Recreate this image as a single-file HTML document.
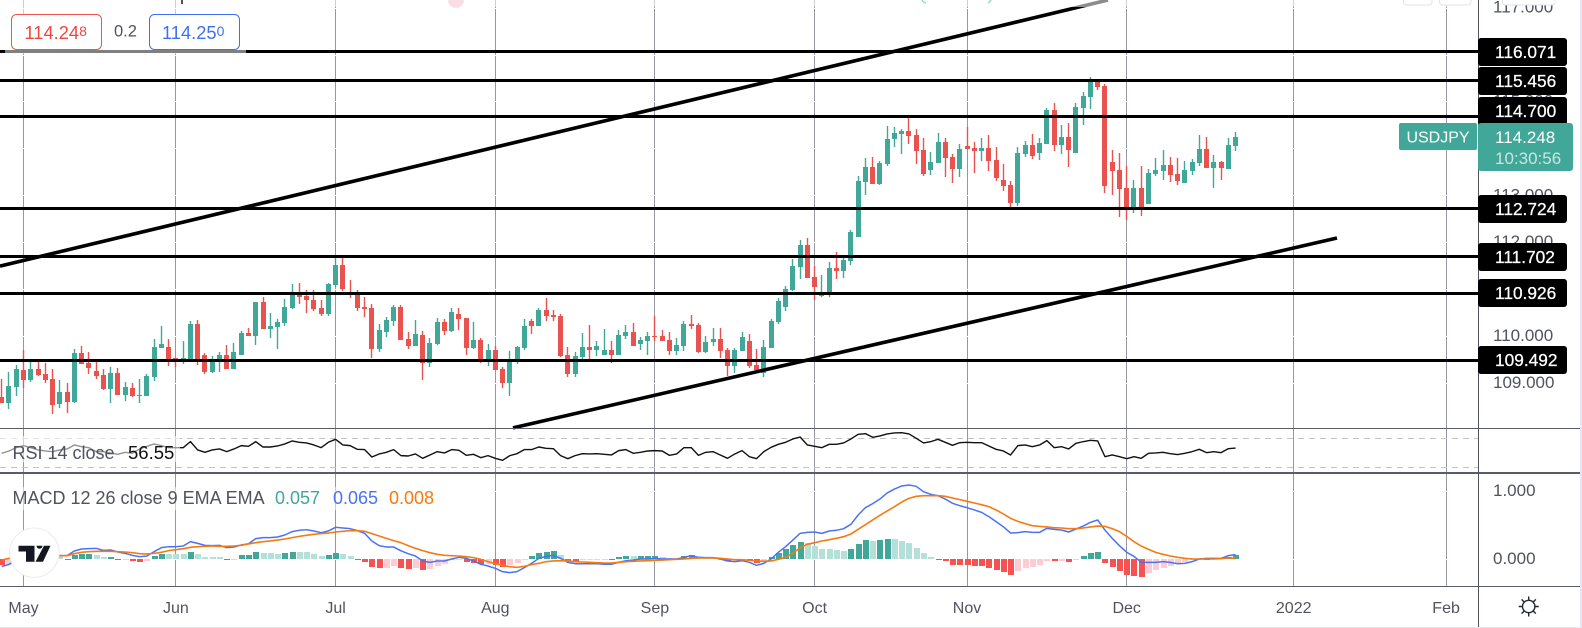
<!DOCTYPE html>
<html lang="en">
<head>
<meta charset="utf-8">
<title>USDJPY daily chart</title>
<style>
html,body{margin:0;padding:0;background:#fff;width:1582px;height:628px;overflow:hidden}
svg{display:block;font-family:"Liberation Sans",sans-serif}
</style>
</head>
<body>
<svg id="chart" xmlns="http://www.w3.org/2000/svg" width="1582" height="628" viewBox="0 0 1582 628">
  <rect x="0" y="0" width="1582" height="628" fill="#ffffff"/>
  <g id="grid"></g>
  <g id="rsi-guides"></g>
  <g id="candles"></g>
  <g id="rsi"></g>
  <g id="macd"></g>
  <g id="levels"></g>
  <g id="trends"></g>

  <rect x="0" y="0" width="1478" height="7" fill="#ffffff" fill-opacity="0.55"/>
  <rect x="5" y="7" width="241" height="47" fill="#ffffff" fill-opacity="0.5"/>
  <rect x="0" y="436" width="180" height="26" fill="#ffffff" fill-opacity="0.55"/>
  <rect x="0" y="487" width="442" height="23" fill="#ffffff" fill-opacity="0.5"/>

  <rect x="181" y="0" width="2" height="4" fill="#50535e"/>
  <path d="M448 0 A8 8 0 0 0 464 0 Z" fill="#fbdde6"/>
  <path d="M922 0 Q923 2 926 3" fill="none" stroke="#7fd0c6" stroke-width="1.2"/>
  <path d="M991 0 Q990 2 988 3" fill="none" stroke="#7fd0c6" stroke-width="1.2"/>

  <g>
    <rect x="11.5" y="14.5" width="90" height="35" rx="5" fill="#ffffff" stroke="#f0534b"/>
    <text x="24.5" y="39" font-size="18.3" fill="#f0473e">114.24<tspan font-size="14" dy="-3">8</tspan></text>
  </g>
  <text x="114" y="36.5" font-size="16.5" fill="#50535e">0.2</text>
  <g>
    <rect x="149.5" y="14.5" width="90" height="35" rx="5" fill="#ffffff" stroke="#3f6ff5"/>
    <text x="162" y="39" font-size="18.3" fill="#3f6ff5">114.25<tspan font-size="14" dy="-3">0</tspan></text>
  </g>

  <text x="12.5" y="459" font-size="18" fill="#50535e">RSI 14 close</text>
  <text x="128" y="459" font-size="18.5" fill="#111111">56.55</text>
  <text x="12.5" y="504" font-size="18" fill="#50535e">MACD 12 26 close 9 EMA EMA</text>
  <text x="275" y="504" font-size="18" fill="#40a799">0.057</text>
  <text x="333" y="504" font-size="18" fill="#4a72f5">0.065</text>
  <text x="389" y="504" font-size="18" fill="#f57a10">0.008</text>

  <g>
    <circle cx="34.3" cy="552.7" r="24.7" fill="#ffffff" stroke="#ececec" stroke-width="1"/>
    <path d="M18.5 545.7 H34.5 V561.7 H26 V551.5 H18.5 Z M36.5 545.7 A3 3 0 1 0 42.5 545.7 Z M44 545.7 H50.5 L43 561.7 H35.5 Z" fill="#131722"/>
  </g>

  <g id="separators">
    <rect x="0" y="428" width="1580" height="1" fill="#5a5d68"/>
    <rect x="0" y="472" width="1580" height="2" fill="#5a5d68"/>
    <rect x="0" y="586" width="1580" height="1" fill="#5a5d68"/>
    <rect x="1478" y="0" width="1" height="628" fill="#50535e"/>
  </g>

  <g id="price-axis"></g>
  <g id="time-axis"></g>
  <g id="level-labels"></g>

  <g>
    <rect x="1399" y="123" width="78" height="27" rx="2" fill="#40a799"/>
    <text x="1438" y="142.5" font-size="16" text-anchor="middle" fill="#ffffff">USDJPY</text>
    <rect x="1478" y="123" width="95" height="48" rx="3" fill="#40a799"/>
    <text x="1495" y="143" font-size="17" fill="#ffffff">114.248</text>
    <text x="1495" y="164" font-size="17" fill="#ffffff" fill-opacity="0.72">10:30:56</text>
  </g>

  <g>
    <circle cx="1528.7" cy="606.5" r="6.2" fill="none" stroke="#222631" stroke-width="1.4"/>
    <path d="M1528.7 596.5V600.3M1528.7 612.7V616.5M1518.7 606.5H1522.5M1534.9 606.5H1538.7M1521.6 599.4L1524.3 602.1M1533.1 610.9L1535.8 613.6M1521.6 613.6L1524.3 610.9M1533.1 602.1L1535.8 599.4" fill="none" stroke="#222631" stroke-width="1.4"/>
  </g>

  <path d="M1403.5 0 V2 A3 3 0 0 0 1406.5 5 H1429 A3 3 0 0 0 1432 2 V0" fill="#ffffff" stroke="#e0e3eb"/>
  <path d="M1439.5 0 V2 A3 3 0 0 0 1442.5 5 H1468 A3 3 0 0 0 1471 2 V0" fill="#ffffff" stroke="#e0e3eb"/>
  <path d="M1502.5 0 V2 A3 3 0 0 0 1505.5 5 H1552 A3 3 0 0 0 1555 2 V0" fill="#ffffff" stroke="#e0e3eb"/>

  <rect x="1580" y="0" width="2" height="628" fill="#e6e6f5"/>
  <rect x="0" y="627" width="1582" height="1" fill="#e6e6f5"/>
</svg>

<script>
const opens = [
108.71,108.58,108.92,109.29,109.07,109.31,109.20,109.09,108.56,108.82,
108.60,109.65,109.44,109.27,109.18,108.88,109.22,108.75,108.90,108.73,
108.73,109.14,109.76,109.78,109.54,109.48,109.50,110.27,109.60,109.24,
109.46,109.60,109.31,109.60,110.07,110.01,110.74,110.16,110.20,110.29,
110.61,110.91,110.86,110.78,110.61,110.48,111.10,111.52,110.95,110.91,
110.63,110.61,109.73,110.10,110.33,110.63,109.95,109.80,110.03,109.44,
109.84,110.31,110.12,110.48,110.39,109.75,109.93,109.48,109.71,109.31,
109.01,109.48,109.75,110.33,110.22,110.57,110.46,110.44,109.60,109.20,
109.56,109.78,109.71,109.60,109.71,109.60,110.01,110.10,109.84,109.90,
110.01,110.01,109.93,109.69,109.80,110.27,110.24,109.67,109.88,109.95,
109.71,109.37,109.69,109.90,109.39,109.22,109.75,110.31,110.63,110.99,
111.48,111.95,111.27,110.86,110.95,111.46,111.40,111.61,112.12,113.30,
113.61,113.25,113.68,114.21,114.32,114.38,114.30,113.98,113.55,113.70,
114.15,113.82,113.57,114.06,114.02,113.95,114.02,113.76,113.34,113.23,
112.85,113.89,114.08,113.91,114.10,114.83,114.08,114.25,113.91,114.87,
115.11,115.43,115.34,113.72,113.55,113.17,112.76,113.17,112.82,113.46,
113.53,113.66,113.46,113.27,113.53,113.70,114.00,113.59,113.72,113.57,
114.06];
const highs = [
109.09,109.25,109.39,109.71,109.46,109.46,109.44,109.31,109.07,109.01,
109.73,109.80,109.67,109.50,109.31,109.35,109.33,109.03,109.01,109.09,
109.20,109.95,110.22,109.95,109.54,109.90,110.33,110.35,109.65,109.58,
109.67,109.82,109.86,110.12,110.18,110.74,110.84,110.50,110.37,110.80,
111.12,111.14,110.99,110.99,110.78,111.14,111.67,111.67,111.21,110.99,
110.84,110.69,110.27,110.41,110.67,110.67,110.10,110.35,110.12,109.97,
110.39,110.37,110.61,110.61,110.39,110.31,109.97,109.84,109.80,109.35,
109.69,109.80,110.37,110.37,110.61,110.82,110.57,110.48,109.78,109.67,
110.07,110.24,109.90,110.16,109.90,110.14,110.24,110.29,109.99,110.10,
110.44,110.14,110.10,109.97,110.33,110.46,110.29,110.01,110.18,110.18,
109.75,109.75,110.10,110.05,109.73,109.93,110.37,110.82,111.08,111.65,
112.06,112.10,111.50,111.31,111.59,111.80,111.72,112.27,113.42,113.80,
113.82,113.74,114.49,114.47,114.42,114.68,114.42,114.23,113.93,114.34,
114.23,113.89,114.10,114.47,114.15,114.23,114.30,114.04,113.68,113.32,
114.04,114.17,114.32,114.23,114.87,114.98,114.51,114.55,114.98,115.21,
115.53,115.47,115.38,113.98,113.91,113.63,113.34,113.63,113.57,113.80,
113.98,113.83,113.80,113.74,113.78,114.30,114.25,113.87,113.74,114.23,
114.36];
const lows = [
108.58,108.45,108.73,108.90,109.03,109.16,109.01,108.35,108.48,108.37,
108.58,109.42,109.20,109.09,108.86,108.58,108.75,108.62,108.71,108.58,
108.73,109.05,109.76,109.37,109.35,109.41,109.50,109.39,109.20,109.22,
109.24,109.31,109.31,109.60,110.01,109.82,110.16,109.97,109.73,110.22,
110.59,110.69,110.50,110.54,110.44,110.44,111.06,110.97,110.82,110.54,
110.41,109.54,109.67,109.99,110.22,109.93,109.73,109.80,109.07,109.35,
109.82,110.03,110.10,110.14,109.60,109.73,109.44,109.37,109.29,108.90,
108.73,109.41,109.71,110.05,110.22,110.33,110.33,109.56,109.14,109.14,
109.52,109.52,109.58,109.60,109.44,109.60,109.95,109.80,109.71,109.60,
109.90,109.90,109.60,109.60,109.69,110.16,109.65,109.65,109.80,109.54,
109.16,109.22,109.69,109.33,109.29,109.14,109.75,110.27,110.54,110.97,
111.23,111.25,110.78,110.84,110.84,111.23,111.25,111.52,112.12,113.02,
113.25,113.23,113.63,114.04,113.89,114.10,113.68,113.42,113.44,113.70,
113.40,113.27,113.40,114.00,113.49,113.74,113.53,113.32,113.10,112.76,
112.78,113.83,113.78,113.76,114.10,113.95,113.89,113.62,113.91,114.51,
114.85,115.26,113.06,113.02,112.55,112.48,112.63,112.57,112.82,113.42,
113.34,113.29,113.23,113.27,113.44,113.63,113.59,113.17,113.34,113.57,
113.95];
const closes = [
108.58,108.95,109.31,109.07,109.31,109.18,109.07,108.54,108.82,108.60,
109.65,109.42,109.33,109.16,108.88,109.22,108.75,108.92,108.73,108.75,
109.16,109.78,109.84,109.50,109.48,109.54,110.27,109.50,109.24,109.50,
109.60,109.31,109.67,110.07,110.01,110.74,110.16,110.22,110.31,110.63,
110.95,110.84,110.78,110.59,110.48,111.12,111.52,111.01,110.93,110.61,
110.59,109.73,110.14,110.35,110.63,109.93,109.80,110.05,109.44,109.86,
110.31,110.12,110.52,110.37,109.75,109.93,109.48,109.71,109.29,109.01,
109.48,109.78,110.22,110.22,110.57,110.44,110.41,109.58,109.20,109.58,
109.78,109.71,109.80,109.71,109.60,110.03,110.10,109.80,109.93,110.01,
109.99,109.90,109.69,109.82,110.27,110.22,109.67,109.88,109.95,109.69,
109.37,109.71,109.99,109.37,109.29,109.78,110.33,110.76,111.01,111.50,
111.95,111.25,111.06,110.91,111.46,111.40,111.63,112.23,113.32,113.61,
113.25,113.70,114.21,114.34,114.38,114.27,113.95,113.46,113.72,114.15,
113.80,113.57,114.00,114.00,113.95,114.02,113.74,113.38,113.21,112.85,
113.91,114.08,113.85,114.12,114.83,114.08,114.25,113.98,114.89,115.13,
115.43,115.32,113.21,113.53,113.14,112.76,113.17,112.76,113.49,113.55,
113.66,113.44,113.32,113.55,113.72,114.00,113.59,113.72,113.59,114.08,
114.248];
const rsiValues = [
49.3,52.5,57.1,59.9,57,53.9,52.5,51.6,53.9,55.3,
60.8,58.5,57.1,51.6,51.6,49.8,47.9,50.7,49.3,55.3,
59,62.2,59.9,57.1,57.1,57.1,65.4,53.9,50.7,53.9,
55.3,51.6,55.3,59.9,59,65.4,58,58,59.4,62.2,
66.3,64.5,63.6,60.8,57.1,64.5,68.6,60.8,59.9,54.8,
54.4,44.2,48.4,50.7,54.4,46.1,45.6,48.4,42.4,47,
51.6,49.8,54.4,53.4,46.5,47.9,43.3,46.1,42.4,39.6,
46.1,48.8,54.4,54.4,58,56.2,55.7,46.1,41.9,46.1,
48.8,48.4,48.8,47.9,47,53,54.4,49.3,50.7,52.5,
53,52.5,46.5,48.4,57.1,57.1,46.5,50.7,51.6,47,
42.4,48.4,53,44.7,41.9,51.6,57.6,61.7,64.5,69.1,
71.8,60.8,59,57.1,61.7,61.7,63.6,69.1,75.5,76.4,
71.4,73.2,76,77.4,77.8,76,70,63.6,65.4,68.6,
64.5,60.3,64,64.5,64,64,59.4,54.8,52.5,47,
59.9,60.8,58.5,60.8,66.8,57.1,58.5,55.3,63.1,65.4,
67.2,66.3,44.7,47,44.7,41.9,44.7,42.4,49.3,49.8,
50.7,48.8,47.5,49.3,51.6,54.8,50.2,51.6,50.2,55.7,
56.55];
const macdValues = [
-.11,-.08,-.015,.045,.108,.118,.108,.083,.049,.049,
.118,.147,.152,.157,.127,.132,.103,.083,.054,.034,
.044,.108,.167,.181,.181,.191,.255,.23,.201,.196,
.201,.167,.176,.206,.225,.299,.314,.314,.324,.353,
.402,.422,.431,.412,.387,.412,.466,.456,.446,.417,
.377,.265,.196,.176,.176,.12,.078,.044,-.029,-.049,
-.029,-.029,0,.025,.01,-.029,-.078,-.103,-.137,-.186,
-.201,-.186,-.127,-.064,.01,.039,.054,.01,-.049,-.069,
-.069,-.069,-.069,-.078,-.078,-.049,-.025,-.015,0,0,
.01,0,0,0,.025,.049,.025,.02,.02,0,
-.029,-.039,-.025,-.049,-.093,-.064,0,.098,.181,.279,
.377,.392,.397,.377,.412,.422,.446,.51,.647,.755,
.814,.882,.971,1.029,1.074,1.088,1.069,.99,.951,.931,
.882,.819,.784,.755,.721,.686,.623,.549,.475,.382,
.387,.402,.392,.392,.451,.436,.426,.397,.441,.485,
.539,.574,.426,.304,.196,.098,.039,-.049,-.049,-.049,
-.039,-.049,-.069,-.064,-.039,0,.01,.01,.01,.049,
.065];
const signalValues = [
-.015,.01,.025,.034,.049,.059,.059,.054,.049,.049,
.078,.098,.108,.113,.113,.113,.108,.103,.093,.078,
.074,.083,.098,.123,.137,.152,.172,.181,.186,.191,
.186,.186,.191,.201,.221,.24,.255,.265,.279,.294,
.314,.333,.348,.363,.373,.382,.397,.407,.417,.417,
.407,.373,.338,.304,.27,.24,.196,.157,.123,.093,
.069,.054,.049,.044,.034,.02,-.005,-.039,-.069,-.093,
-.113,-.123,-.108,-.083,-.064,-.039,-.029,-.025,-.029,-.039,
-.044,-.049,-.054,-.059,-.059,-.049,-.039,-.034,-.029,-.025,
-.02,-.015,-.01,-.005,0,.01,.015,.015,.015,.01,
0,-.01,-.01,-.02,-.029,-.034,-.029,-.005,.025,.083,
.167,.216,.24,.265,.284,.304,.328,.368,.436,.505,
.574,.642,.706,.77,.838,.892,.922,.931,.931,.931,
.922,.897,.873,.848,.824,.799,.77,.721,.662,.598,
.554,.52,.49,.48,.471,.461,.456,.446,.446,.456,
.471,.485,.48,.446,.402,.333,.255,.191,.142,.098,
.069,.044,.025,.01,0,0,0,0,.005,.015,
.008];
const histValues = [
-.09,-.08,-.04,.01,.06,.059,.05,.05,.045,-.015,
.06,.07,.08,.06,.03,.032,-.02,-.02,-.03,-.05,
-.03,.045,.08,.075,.074,.073,.105,.075,.03,.029,
.028,-.015,-.005,.054,.06,.1,.085,.084,.075,.09,
.1,.099,.098,.075,.05,.065,.085,.07,.045,-.015,
-.05,-.12,-.135,-.134,-.105,-.135,-.15,-.13,-.16,-.145,
-.105,-.07,-.02,-.01,-.04,-.06,-.075,-.07,-.085,-.115,
-.085,-.06,-.005,.045,.09,.105,.115,.06,-.03,-.031,
-.02,-.019,-.018,-.017,-.022,.03,.045,.044,.045,.046,
.047,.03,.015,.014,.045,.055,.025,.024,.023,.005,
-.03,-.02,-.005,-.03,-.06,-.03,.025,.09,.145,.205,
.25,.235,.185,.145,.144,.13,.12,.145,.22,.28,
.265,.28,.295,.294,.265,.235,.16,.09,.03,-.005,
-.03,-.09,-.091,-.092,-.105,-.106,-.135,-.165,-.195,-.24,
-.18,-.135,-.12,-.09,-.03,-.031,-.03,-.045,-.005,.045,
.09,.105,-.06,-.12,-.18,-.24,-.255,-.27,-.21,-.165,
-.135,-.105,-.06,-.045,-.01,-.005,.005,.01,.011,.03,
.057];
const levelPrices = [116.071,115.456,114.7,112.724,111.702,110.926,109.492];
const priceTicks = [117,116,115,114,113,112,111,110,109];
const macdTicks = [1,0];
const rsiGuideValues = [70,30];
const timeLabels = ["May","Jun","Jul","Aug","Sep","Oct","Nov","Dec","2022","Feb"];
const timeLabelBars = [3,24,46,68,90,112,133,155,178,199];
const upperTrendBars = [-0.24,152.42];
const upperTrendPrices = [111.5,117.174];
const lowerTrendBars = [70.44,183.97];
const lowerTrendPrices = [108.05,112.1];

const NS = "http://www.w3.org/2000/svg";
const GREEN = "#40a799", RED = "#e9534f";

function barX(i){ return 23.5 + (i - 3) * 7.258; }
function priceY(p){ return 360.3 - 46.9 * (p - 109.492); }
function rsiY(v){ return 467.3 - 0.725 * (v - 30); }
function macdY(v){ return 559 - 68 * v; }
function crisp(v){ return Math.floor(v) + 0.5; }

function make(parent, tag, attrs){
  const el = document.createElementNS(NS, tag);
  for (const k in attrs) el.setAttribute(k, attrs[k]);
  parent.appendChild(el);
  return el;
}
function linePath(values, yFn){
  return values.map((v, i) => (i ? "L" : "M") + barX(i).toFixed(2) + " " + yFn(v).toFixed(2)).join("");
}

const gridG = document.getElementById("grid");
timeLabelBars.forEach((b) => {
  const x = crisp(barX(b));
  const el = make(gridG, "line", {x1:x, x2:x, y1:0, y2:586, stroke:"#9598a1", "stroke-width":1});
  
  
});
priceTicks.forEach((p) => {
  const y = crisp(priceY(p));
  const el = make(gridG, "line", {x1:0, x2:1478, y1:y, y2:y, stroke:"#ffffff", "stroke-width":1});
  
  
});
macdTicks.forEach((v) => {
  const y = crisp(macdY(v));
  const el = make(gridG, "line", {x1:0, x2:1478, y1:y, y2:y, stroke:"#ffffff", "stroke-width":1});
  
  
});

const guideG = document.getElementById("rsi-guides");
rsiGuideValues.forEach((v) => {
  const y = crisp(rsiY(v));
  const el = make(guideG, "line", {x1:0, x2:1478, y1:y, y2:y, stroke:"#c4c4c8", "stroke-width":1, "stroke-dasharray":"6 5"});
  
  
});

const candleG = document.getElementById("candles");
opens.forEach((o, i) => {
  const c = closes[i];
  const color = c >= o ? GREEN : RED;
  const x = Math.floor(barX(i));
  const g = make(candleG, "g", {});
  
  
  const top = Math.round(priceY(Math.max(o, c)));
  const bot = Math.round(priceY(Math.min(o, c)));
  const hy = Math.round(priceY(highs[i]));
  const ly = Math.round(priceY(lows[i]));
  const wick = make(g, "rect", {x:x - 0.2, y:hy, width:1.4, height:Math.max(1, ly - hy), fill:color});
  
  
  const body = make(g, "rect", {x:x - 2, y:top, width:5, height:Math.max(1, bot - top), fill:color, "shape-rendering":"crispEdges"});
  
  
});

const rsiG = document.getElementById("rsi");
const rsiLine = make(rsiG, "path", {d:linePath(rsiValues, rsiY), fill:"none", stroke:"#111111", "stroke-width":1.4, "stroke-linejoin":"round"});



const macdG = document.getElementById("macd");
histValues.forEach((v, i) => {
  const prev = i ? histValues[i - 1] : 0;
  let fill;
  if (v >= 0) fill = v >= prev ? "#40a799" : "#b5e0da";
  else fill = v < prev ? "#f65252" : "#fdcbd2";
  const y0 = macdY(0), yv = macdY(v);
  const top = Math.round(Math.min(y0, yv));
  const bot = Math.round(Math.max(y0, yv));
  const el = make(macdG, "rect", {x:Math.floor(barX(i)) - 2, y:top, width:6, height:Math.max(1, bot - top), fill:fill, "shape-rendering":"crispEdges"});
  
  
});
const macdLine = make(macdG, "path", {d:linePath(macdValues, macdY), fill:"none", stroke:"#4a72f5", "stroke-width":1.5, "stroke-linejoin":"round"});


const signalLine = make(macdG, "path", {d:linePath(signalValues, macdY), fill:"none", stroke:"#f57a10", "stroke-width":1.6, "stroke-linejoin":"round"});



const levelsG = document.getElementById("levels");
levelPrices.forEach((p) => {
  const y = Math.round(priceY(p) - 1.5) + 1.5;
  const el = make(levelsG, "line", {x1:0, x2:1478, y1:y, y2:y, stroke:"#000000", "stroke-width":3});
  
  
});

const trendsG = document.getElementById("trends");
const upperTrend = make(trendsG, "line", {x1:barX(upperTrendBars[0]), y1:priceY(upperTrendPrices[0]), x2:barX(upperTrendBars[1]), y2:priceY(upperTrendPrices[1]), stroke:"#000000", "stroke-width":3.6});


const lowerTrend = make(trendsG, "line", {x1:barX(lowerTrendBars[0]), y1:priceY(lowerTrendPrices[0]), x2:barX(lowerTrendBars[1]), y2:priceY(lowerTrendPrices[1]), stroke:"#000000", "stroke-width":3.6});



const axisG = document.getElementById("price-axis");
priceTicks.forEach((p) => {
  const el = make(axisG, "text", {x:1493, y:(priceY(p) + 4.5).toFixed(1), "font-size":17, fill:"#50535e"});
  el.textContent = p.toFixed(3);
  
  
});
macdTicks.forEach((v) => {
  const el = make(axisG, "text", {x:1493, y:(macdY(v) + 5).toFixed(1), "font-size":17, fill:"#50535e"});
  el.textContent = v.toFixed(3);
  
  
});

const timeG = document.getElementById("time-axis");
timeLabels.forEach((t, i) => {
  const el = make(timeG, "text", {x:barX(timeLabelBars[i]).toFixed(1), y:613, "font-size":16, "text-anchor":"middle", fill:"#50535e"});
  el.textContent = t;
  
  
});

const LAST_TAG_TOP = 125;
const labelG = document.getElementById("level-labels");
levelPrices.forEach((p) => {
  let cy = Math.round(priceY(p));
  if (cy + 14 > LAST_TAG_TOP && cy - 14 < LAST_TAG_TOP) cy = LAST_TAG_TOP - 14;
  const box = make(labelG, "rect", {x:1478, y:cy - 14, width:89, height:28, rx:3, fill:"#000000"});
  
  
  const txt = make(labelG, "text", {x:1495, y:cy + 6, "font-size":17.3, fill:"#ffffff", "stroke":"#ffffff", "stroke-width":0.25});
  txt.textContent = p.toFixed(3);
  
  
});
</script>
</body>
</html>
